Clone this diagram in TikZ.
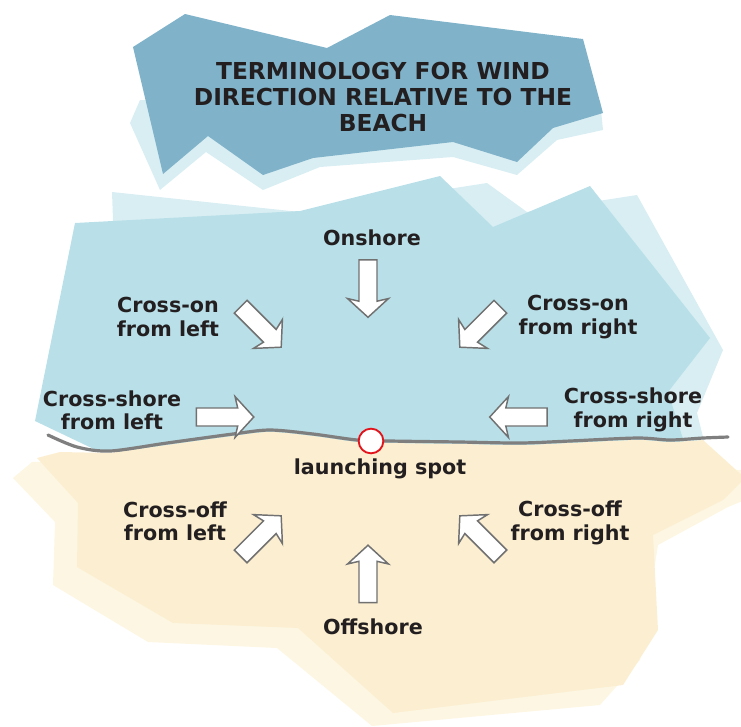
\documentclass[tikz,border=0pt]{standalone}
\usepackage{fontspec}
\setmainfont{DejaVu Sans}
\usetikzlibrary{shapes.arrows}
\definecolor{textcol}{HTML}{231F20}
\definecolor{titlecol}{HTML}{80B3CA}
\definecolor{titleshade}{HTML}{D9EEF3}
\definecolor{seacol}{HTML}{B9E0E8}
\definecolor{seashade}{HTML}{D8EEF3}
\definecolor{sandcol}{HTML}{FCEFD1}
\definecolor{sandshade}{HTML}{FDF6E3}
\definecolor{coastcol}{HTML}{7F7F7F}
\definecolor{arrowcol}{HTML}{717171}
\definecolor{spotcol}{HTML}{E3131B}
\tikzset{
	windarrow/.style={single arrow,draw=arrowcol,fill=white,line width=1.1pt,
		inner xsep=0pt,inner ysep=6.2pt,minimum height=43pt,single arrow head extend=8.6pt,
		single arrow head indent=2pt,single arrow tip angle=95},
	windlabel/.style={align=center,text=textcol,font=\bfseries\fontsize{15.5}{17.5}\selectfont},
}
\begin{document}
\begin{tikzpicture}[x=0.75pt,y=-0.75pt]
\useasboundingbox (0,0) rectangle (741,726);
% title patch
\fill[titleshade] (130,123) -- (160,190) -- (206,152) -- (263,190) -- (320,167) -- (453,157) -- (517,175) -- (557,140) -- (603,130) -- (600,100) -- (140,100) -- cycle;
\fill[titlecol] (133,47) -- (185,14) -- (327,48) -- (390,15) -- (583,39) -- (603,113) -- (553,128) -- (517,162) -- (453,142) -- (313,158) -- (263,175) -- (208,136) -- (163,174) -- cycle;
\node[align=center,text=textcol,font=\bfseries\fontsize{17.5}{19.5}\selectfont] (title) at (383,97) {TERMINOLOGY FOR WIND\\DIRECTION RELATIVE TO THE\\BEACH};
% sea
\fill[seashade] (112,192) -- (300,212) -- (487,183) -- (527,212) -- (637,195) -- (723,350) -- (697,413) -- (705,445) -- (100,452) -- (113,220) -- cycle;
\fill[seacol] (75,223) -- (300,211) -- (440,176) -- (493,227) -- (590,186) -- (710,338) -- (668,392) -- (685,445) -- (100,452) -- (35,421) -- cycle;
% beach
\fill[sandshade] (32,462) -- (13,478) -- (55,522) -- (53,585) -- (148,642) -- (277,648) -- (372,726) -- (600,705) -- (640,660) -- (658,545) -- (728,507) -- (745,500) -- (745,470) -- (100,460) -- cycle;
\fill[sandcol] (37,458) -- (78,503) -- (77,567) -- (173,623) -- (298,628) -- (393,713) -- (623,685) -- (658,630) -- (653,535) -- (723,500) -- (745,478) -- (703,440)
	-- plot[smooth] coordinates {(703,440) (670,442) (637,440) (570,443) (520,445) (460,444) (390,443) (357,442) (313,436) (270,432) (233,436) (167,445) (110,453)} -- (60,452) -- cycle;
\draw[coastcol,line width=2.4pt,line cap=round] plot[smooth] coordinates {(48,435) (77,447) (110,451) (167,443) (233,434) (270,430) (313,434) (357,440) (390,441) (460,442) (520,443) (570,441) (637,438) (670,440) (703,438) (728,437)};
\node[circle,draw=spotcol,fill=white,line width=1.4pt,minimum size=18.5pt,inner sep=0pt] (spot) at (371,441) {};
% wind arrows
\foreach \nm/\x/\y/\ang in {
	onshore/368/284.5/-90,
	crossonleft/258/324/-45,
	crossonright/483/324/-135,
	crossshoreleft/221/417/0,
	crossshoreright/522.5/417/180,
	crossoffleft/258/539/45,
	crossoffright/483/539/135,
	offshore/368/578/90%
	}{
	\node[windarrow,rotate=\ang] (\nm) at (\x,\y) {};
	}
% labels
\node[windlabel] (onshore label) at (372,238) {Onshore};
\node[windlabel] (crossonleft label) at (168,317) {Cross-on\\from left};
\node[windlabel] (crossonright label) at (578,317) {Cross-on\\from right};
\node[windlabel] (crossshoreleft label) at (112,410) {Cross-shore\\from left};
\node[windlabel] (crossshoreright label) at (633,410) {Cross-shore\\from right};
\node[windlabel] (spot label) at (380,469) {launching spot};
\node[windlabel] (crossoffleft label) at (175,521) {Cross-off\\from left};
\node[windlabel] (crossoffright label) at (570,523) {Cross-off\\from right};
\node[windlabel] (offshore label) at (373,627) {Offshore};
\end{tikzpicture}
\end{document}
